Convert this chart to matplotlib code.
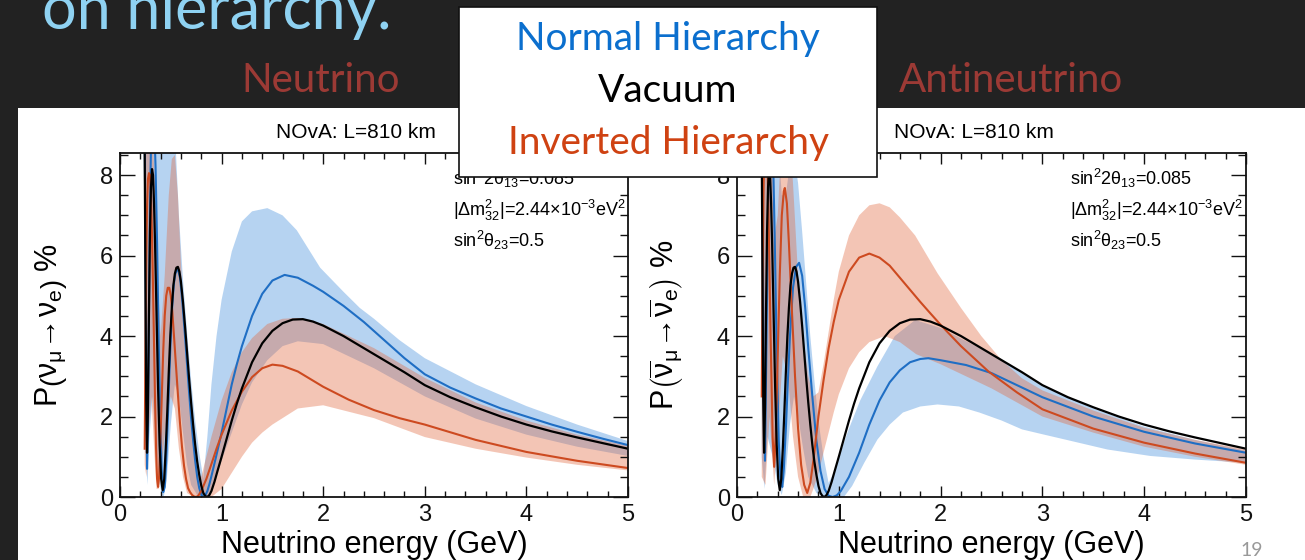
import numpy as np
import matplotlib
matplotlib.use("Agg")
import matplotlib.pyplot as plt
from matplotlib.patches import Rectangle

plt.rcParams['font.family'] = ['Liberation Sans', 'DejaVu Sans']
plt.rcParams['mathtext.fontset'] = 'custom'
plt.rcParams['mathtext.rm'] = 'Liberation Sans'
plt.rcParams['mathtext.it'] = 'Liberation Sans'
plt.rcParams['mathtext.bf'] = 'Liberation Sans:bold'

# ---- data (E in GeV, P in %) ----
# vacuum curve, same in both panels
vac_E = [0.243, 0.25, 0.258, 0.266, 0.275, 0.285, 0.295, 0.305, 0.315, 0.325, 0.335, 0.345, 0.36, 0.375,
         0.39, 0.405, 0.42, 0.435, 0.45, 0.465, 0.48, 0.495, 0.51, 0.525, 0.54, 0.555, 0.57, 0.585, 0.60,
         0.62, 0.64, 0.66, 0.68, 0.70, 0.72, 0.74, 0.76, 0.78, 0.80, 0.82, 0.84, 0.86, 0.88, 0.90, 0.93,
         0.96, 1.0, 1.05, 1.1, 1.15, 1.2, 1.3, 1.4, 1.5, 1.6, 1.7, 1.8, 1.9, 2.0, 2.2, 2.4, 2.6, 2.8, 3.0,
         3.25, 3.5, 3.75, 4.0, 4.25, 4.5, 4.75, 5.0]
vac_P = [8.6, 5.5, 2.4, 1.1, 2.2, 4.6, 6.6, 7.7, 8.15, 8.0, 7.3, 6.3, 4.5, 2.7,
         1.3, 0.45, 0.17, 0.45, 1.2, 2.1, 3.1, 4.0, 4.7, 5.25, 5.55, 5.7, 5.72, 5.6, 5.35,
         4.85, 4.25, 3.6, 2.95, 2.35, 1.8, 1.3, 0.88, 0.55, 0.28, 0.1, 0.02, 0.0, 0.05, 0.15, 0.38,
         0.65, 1.0, 1.45, 1.9, 2.32, 2.7, 3.35, 3.82, 4.13, 4.32, 4.41, 4.42, 4.36, 4.26, 4.0, 3.7, 3.4, 3.1, 2.78,
         2.48, 2.23, 2.0, 1.8, 1.63, 1.48, 1.34, 1.2]

# neutrino, normal hierarchy
nh_nu_E = [0.243, 0.25, 0.258, 0.266, 0.275, 0.285, 0.295, 0.31, 0.33, 0.35, 0.365, 0.38, 0.395, 0.41,
           0.425, 0.44, 0.455, 0.47, 0.485, 0.50, 0.515, 0.53, 0.545, 0.56, 0.575, 0.59, 0.605, 0.62,
           0.64, 0.66, 0.68, 0.70, 0.72, 0.74, 0.76, 0.78, 0.80, 0.82, 0.84, 0.86, 0.88, 0.90, 0.95, 1.0,
           1.05, 1.1, 1.15, 1.2, 1.3, 1.4, 1.5, 1.62, 1.75, 1.9, 2.0, 2.2, 2.4, 2.6, 2.8, 3.0, 3.25, 3.5,
           3.75, 4.0, 4.25, 4.5, 4.75, 5.0]
nh_nu_P = [9.0, 6.5, 2.8, 0.7, 1.8, 4.5, 7.2, 9.5, 9.8, 8.2, 6.3, 4.0, 2.0, 0.7,
           0.12, 0.25, 0.9, 1.9, 3.0, 4.0, 4.8, 5.3, 5.55, 5.65, 5.62, 5.45, 5.1, 4.65,
           4.0, 3.3, 2.6, 1.95, 1.4, 0.9, 0.5, 0.22, 0.06, 0.0, 0.04, 0.15, 0.32, 0.52, 1.05, 1.6,
           2.2, 2.8, 3.3, 3.75, 4.5, 5.05, 5.38, 5.52, 5.45, 5.25, 5.1, 4.75, 4.35, 3.9, 3.45, 3.05, 2.72, 2.45,
           2.2, 2.0, 1.8, 1.62, 1.45, 1.29]

# neutrino, inverted hierarchy
ih_nu_E = [0.243, 0.25, 0.258, 0.266, 0.275, 0.285, 0.295, 0.305, 0.315, 0.325, 0.335, 0.345, 0.355,
           0.365, 0.375, 0.385, 0.395, 0.41, 0.425, 0.44, 0.455, 0.47, 0.485, 0.50, 0.515, 0.53, 0.55,
           0.57, 0.59, 0.61, 0.63, 0.65, 0.67, 0.69, 0.71, 0.73, 0.75, 0.77, 0.80, 0.85, 0.9, 0.95, 1.0,
           1.1, 1.2, 1.3, 1.4, 1.5, 1.6, 1.75, 2.0, 2.25, 2.5, 2.75, 3.0, 3.5, 4.0, 4.5, 5.0]
ih_nu_P = [1.2, 3.5, 5.8, 7.2, 7.9, 8.05, 8.0, 7.5, 6.5, 5.2, 3.8, 2.4, 1.2,
           0.45, 0.25, 0.5, 1.2, 2.4, 3.6, 4.5, 5.0, 5.2, 5.2, 5.0, 4.6, 4.05, 3.3,
           2.55, 1.85, 1.25, 0.78, 0.45, 0.22, 0.12, 0.05, 0.01, 0.0, 0.03, 0.15, 0.45, 0.82, 1.2, 1.55,
           2.15, 2.62, 2.98, 3.2, 3.29, 3.26, 3.12, 2.74, 2.42, 2.16, 1.96, 1.8, 1.42, 1.12, 0.9, 0.72]

# antineutrino, normal hierarchy
nh_anu_E = [0.243, 0.25, 0.258, 0.266, 0.275, 0.29, 0.31, 0.33, 0.35, 0.37, 0.39, 0.41, 0.43, 0.445,
            0.46, 0.48, 0.50, 0.52, 0.55, 0.58, 0.61, 0.64, 0.67, 0.70, 0.74, 0.78, 0.82, 0.86, 0.90,
            0.94, 0.98, 1.02, 1.1, 1.2, 1.3, 1.4, 1.5, 1.6, 1.7, 1.8, 1.88, 2.0, 2.25, 2.5, 2.75, 3.0,
            3.5, 4.0, 4.5, 5.0]
nh_anu_P = [9.0, 8.0, 4.5, 1.8, 0.9, 4.0, 8.0, 9.5, 9.0, 6.5, 3.6, 1.4, 0.35, 0.25,
            0.7, 1.7, 2.9, 4.0, 5.2, 5.72, 5.82, 5.5, 4.7, 3.7, 2.5, 1.4, 0.65, 0.2, 0.03,
            0.0, 0.04, 0.15, 0.5, 1.1, 1.8, 2.4, 2.85, 3.15, 3.35, 3.43, 3.45, 3.4, 3.28, 3.08, 2.78, 2.48,
            2.0, 1.62, 1.33, 1.1]

# antineutrino, inverted hierarchy
ih_anu_E = [0.243, 0.25, 0.26, 0.275, 0.29, 0.31, 0.33, 0.35, 0.365, 0.38, 0.40, 0.42, 0.44, 0.46,
            0.47, 0.49, 0.51, 0.54, 0.57, 0.60, 0.63, 0.66, 0.69, 0.72, 0.75, 0.8, 0.85, 0.9, 0.95, 1.0,
            1.1, 1.2, 1.3, 1.4, 1.5, 1.6, 1.7, 1.8, 1.88, 2.0, 2.2, 2.47, 2.75, 3.0, 3.5, 4.0, 4.5, 5.0]
ih_anu_P = [2.5, 5.0, 7.5, 9.5, 9.5, 7.0, 4.0, 1.5, 0.75, 1.5, 3.5, 5.5, 7.0, 7.6,
            7.68, 7.3, 6.3, 4.6, 3.0, 1.7, 0.8, 0.3, 0.1, 0.35, 0.9, 2.0, 2.9, 3.7, 4.35, 4.9,
            5.6, 5.95, 6.05, 5.95, 5.75, 5.45, 5.15, 4.85, 4.62, 4.28, 3.75, 3.12, 2.6, 2.18, 1.7, 1.35, 1.08, 0.85]

# delta_CP bands: upper edge and lower edge
nh_nu_hi_E = [0.243, 0.30, 0.36, 0.42, 0.47, 0.52, 0.55, 0.58, 0.62, 0.66, 0.70, 0.74, 0.78, 0.82, 0.86,
              0.9, 0.95, 1.0, 1.1, 1.2, 1.3, 1.45, 1.6, 1.74, 1.97, 2.2, 2.36, 2.5, 2.75, 3.0, 3.5, 4.0,
              4.5, 5.0]
nh_nu_hi_P = [9, 9, 9, 9, 9, 9, 8.6, 7.0, 5.4, 4.1, 2.9, 1.9, 1.1, 0.45, 1.5,
              2.8, 4.0, 4.9, 6.1, 6.85, 7.1, 7.18, 7.0, 6.63, 5.7, 5.1, 4.7, 4.43, 3.9, 3.45, 2.8, 2.26,
              1.8, 1.39]
nh_nu_lo_E = [0.243, 0.255, 0.27, 0.29, 0.32, 0.35, 0.38, 0.41, 0.43, 0.46, 0.50, 0.54, 0.58, 0.62, 0.66,
              0.70, 0.76, 0.82, 0.86, 0.92, 1.0, 1.1, 1.2, 1.3, 1.45, 1.6, 1.75, 2.0, 2.5, 3.0, 3.5, 4.0,
              4.5, 5.0]
nh_nu_lo_P = [3.0, 1.0, 0.3, 1.5, 2.5, 1.5, 0.5, 0.05, 0.0, 0.4, 1.8, 2.8, 2.5, 1.6, 0.8,
              0.3, 0.05, 0.0, 0.0, 0.3, 0.9, 1.6, 2.3, 2.85, 3.4, 3.75, 3.87, 3.8, 3.2, 2.5, 1.95, 1.55,
              1.25, 1.02]

ih_nu_hi_E = [0.243, 0.32, 0.34, 0.37, 0.40, 0.44, 0.48, 0.51, 0.54, 0.57, 0.60, 0.64, 0.68, 0.72, 0.76,
              0.80, 0.9, 1.0, 1.1, 1.2, 1.3, 1.45, 1.6, 1.75, 2.0, 2.5, 3.0, 3.5, 4.0, 4.5, 5.0]
ih_nu_hi_P = [9, 9, 8.0, 5.5, 4.0, 5.5, 7.5, 8.4, 8.5, 7.5, 5.8, 3.8, 2.3, 1.3, 0.6,
              0.5, 1.5, 2.4, 3.1, 3.6, 3.95, 4.3, 4.43, 4.45, 4.3, 3.7, 2.96, 2.35, 1.9, 1.55, 1.27]
ih_nu_lo_E = [0.243, 0.26, 0.28, 0.31, 0.34, 0.36, 0.38, 0.42, 0.46, 0.50, 0.54, 0.58, 0.62, 0.66, 0.72,
              0.8, 0.9, 1.0, 1.1, 1.2, 1.3, 1.4, 1.5, 1.75, 2.0, 2.5, 3.0, 3.5, 4.0, 4.5, 5.0]
ih_nu_lo_P = [0.8, 0.5, 1.5, 2.5, 1.0, 0.2, 0.2, 1.0, 2.0, 2.5, 2.2, 1.2, 0.5, 0.1, 0.0,
              0.0, 0.0, 0.2, 0.6, 1.0, 1.35, 1.6, 1.8, 2.2, 2.28, 1.96, 1.49, 1.2, 0.98, 0.8, 0.66]

nh_anu_hi_E = [0.243, 0.40, 0.44, 0.48, 0.52, 0.56, 0.60, 0.64, 0.68, 0.72, 0.76, 0.80, 0.85, 0.90, 0.95,
               1.0, 1.1, 1.21, 1.38, 1.55, 1.75, 2.0, 2.5, 3.0, 3.5, 4.0, 4.5, 5.0]
nh_anu_hi_P = [9, 9, 7.5, 7.5, 8.3, 8.5, 7.8, 6.6, 5.3, 4.0, 2.9, 1.9, 1.0, 0.35, 0.6,
               1.0, 1.7, 2.4, 3.25, 4.0, 4.4, 4.2, 3.55, 2.75, 2.2, 1.75, 1.42, 1.15]
nh_anu_lo_E = [0.243, 0.27, 0.30, 0.35, 0.40, 0.44, 0.48, 0.52, 0.56, 0.60, 0.65, 0.70, 0.78, 0.85, 1.05,
               1.13, 1.25, 1.38, 1.5, 1.63, 1.8, 1.97, 2.18, 2.38, 2.6, 2.8, 3.0, 3.22, 3.64, 4.06, 4.5, 5.0]
nh_anu_lo_P = [1.0, 0.2, 1.5, 1.0, 0.3, 0.05, 0.6, 1.8, 2.5, 2.0, 1.2, 0.5, 0.1, 0.0, 0.0,
               0.27, 0.85, 1.43, 1.8, 2.1, 2.25, 2.3, 2.25, 2.1, 1.9, 1.68, 1.56, 1.43, 1.18, 1.02, 0.93, 0.85]

ih_anu_hi_E = [0.243, 0.34, 0.37, 0.40, 0.44, 0.52, 0.55, 0.60, 0.65, 0.70, 0.75, 0.80, 0.85, 0.90, 0.95,
               1.0, 1.1, 1.2, 1.3, 1.4, 1.5, 1.6, 1.75, 1.97, 2.2, 2.4, 2.6, 2.8, 3.0, 3.5, 4.0, 4.5, 5.0]
ih_anu_hi_P = [9, 9, 6.5, 7.0, 9, 9, 7.8, 5.5, 4.0, 3.0, 2.5, 2.6, 3.3, 4.1, 4.9,
               5.6, 6.5, 7.0, 7.25, 7.3, 7.2, 6.95, 6.5, 5.56, 4.7, 4.0, 3.4, 2.95, 2.65, 2.15, 1.72, 1.42, 1.18]
ih_anu_lo_E = [0.243, 0.28, 0.32, 0.365, 0.40, 0.45, 0.50, 0.55, 0.60, 0.65, 0.72, 0.75, 0.8, 0.85, 0.9,
               0.95, 1.0, 1.1, 1.2, 1.3, 1.45, 1.6, 1.76, 2.0, 2.5, 3.0, 3.5, 4.0, 4.5, 5.0]
ih_anu_lo_P = [0.5, 0.3, 2.0, 0.3, 1.5, 3.5, 3.0, 1.5, 0.5, 0.0, 0.0, 0.2, 0.6, 1.1, 1.6,
               2.1, 2.55, 3.2, 3.6, 3.85, 4.0, 3.85, 3.55, 3.3, 2.7, 2.0, 1.6, 1.25, 1.0, 0.8]

x_ticks = [0, 1, 2, 3, 4, 5]
y_ticks = [0, 2, 4, 6, 8]
params = [r'sin$^{2}$2$\theta_{13}$=0.085',
          r'|$\Delta$m$^{2}_{32}$|=2.44$\times$10$^{-3}$eV$^{2}$',
          r'sin$^{2}$$\theta_{23}$=0.5']
legend_lines = ['Normal Hierarchy', 'Vacuum', 'Inverted Hierarchy']

blue = '#1f6ec4'
red = '#cd4a20'
band_blue = '#3f8cdc'
band_red = '#e2683e'

W, H = 1305, 560
fig = plt.figure(figsize=(W / 100, H / 100), dpi=100, facecolor='#222222')

# white slide area behind the plots
fig.add_artist(Rectangle((18 / W, 0), 1 - 18 / W, 1 - 108 / H, transform=fig.transFigure,
                         facecolor='white', edgecolor='none', zorder=-10))


def band(ax, hiE, hiP, loE, loP, color):
    xs = np.r_[hiE, loE[::-1]]
    ys = np.r_[hiP, loP[::-1]]
    ax.fill(xs, ys, color=color, alpha=0.38, lw=0)


def panel(ax, nhE, nhP, ihE, ihP, nh_band, ih_band, ylabel):
    band(ax, *nh_band, band_blue)
    band(ax, *ih_band, band_red)
    ax.plot(nhE, nhP, color=blue, lw=1.5)
    ax.plot(ihE, ihP, color=red, lw=1.5)
    ax.plot(vac_E, vac_P, color='black', lw=1.6)
    ax.set_xlim(0, 5)
    ax.set_ylim(0, 8.55)
    ax.set_xticks(x_ticks)
    ax.set_yticks(y_ticks)
    ax.set_xticks(np.arange(0, 5.01, 0.2), minor=True)
    ax.set_yticks(np.arange(0, 8.51, 0.5), minor=True)
    ax.tick_params(which='both', direction='in', top=True, right=True, width=1.0, colors='#111111')
    ax.tick_params(axis='x', which='major', length=8, labelsize=17, pad=5)
    ax.tick_params(axis='x', which='minor', length=4)
    ax.tick_params(axis='y', which='major', length=11, labelsize=17, pad=5)
    ax.tick_params(axis='y', which='minor', length=5.5)
    for s in ax.spines.values():
        s.set_linewidth(1.3)
        s.set_color('#111111')
    ax.set_xlabel('Neutrino energy (GeV)', fontsize=22, va='baseline')
    ax.xaxis.set_label_coords(0.5, -0.163)
    ax.set_ylabel(ylabel, fontsize=22)
    ax.yaxis.set_label_coords(-0.10, 0.5)
    ax.text(0.5 - 0.035, 1.06, 'NOvA: L=810 km', transform=ax.transAxes, ha='center', va='center',
            fontsize=15)
    for txt, yy in zip(params, [0.927, 0.834, 0.747]):
        ax.text(0.655, yy, txt, transform=ax.transAxes, ha='left', va='center', fontsize=13)


ax1 = fig.add_axes([120 / W, 63 / H, 508 / W, 344 / H])
ax2 = fig.add_axes([737 / W, 63 / H, 509 / W, 344 / H])

panel(ax1, nh_nu_E, nh_nu_P, ih_nu_E, ih_nu_P,
      (nh_nu_hi_E, nh_nu_hi_P, nh_nu_lo_E, nh_nu_lo_P),
      (ih_nu_hi_E, ih_nu_hi_P, ih_nu_lo_E, ih_nu_lo_P),
      r'P$\left(\nu_{\mu}\!\rightarrow\!\nu_{e}\right)$ %')
panel(ax2, nh_anu_E, nh_anu_P, ih_anu_E, ih_anu_P,
      (nh_anu_hi_E, nh_anu_hi_P, nh_anu_lo_E, nh_anu_lo_P),
      (ih_anu_hi_E, ih_anu_hi_P, ih_anu_lo_E, ih_anu_lo_P),
      r'P$\left(\overline{\nu}_{\mu}\!\rightarrow\!\overline{\nu}_{e}\right)$ %')

# slide texts
fig.text(42 / W, 1 - 29 / H, 'on hierarchy.', ha='left', va='baseline', fontsize=44,
         color='#8fd2f2', family='Lato')
fig.text(321 / W, 1 - 81 / H, 'Neutrino', ha='center', va='center', fontsize=29,
         color='#9c3a35', family='Lato')
fig.text(1011 / W, 1 - 81 / H, 'Antineutrino', ha='center', va='center', fontsize=29,
         color='#9c3a35', family='Lato')
fig.text(1252 / W, 1 - 550 / H, '19', ha='center', va='center', fontsize=14, color='#999999',
         family='Lato')

# legend box on top of both plots
fig.add_artist(Rectangle((459 / W, 1 - 177 / H), 418 / W, 170 / H, transform=fig.transFigure,
                         facecolor='white', edgecolor='#111111', lw=1.2, zorder=5))
for txt, col, yy in zip(legend_lines, ['#0b6fce', 'black', '#cf4212'], [39, 91, 143]):
    fig.text(668 / W, 1 - yy / H, txt, ha='center', va='center', fontsize=28, color=col,
             family='Lato', zorder=6)

fig.savefig('out.png', dpi=100, facecolor=fig.get_facecolor())
